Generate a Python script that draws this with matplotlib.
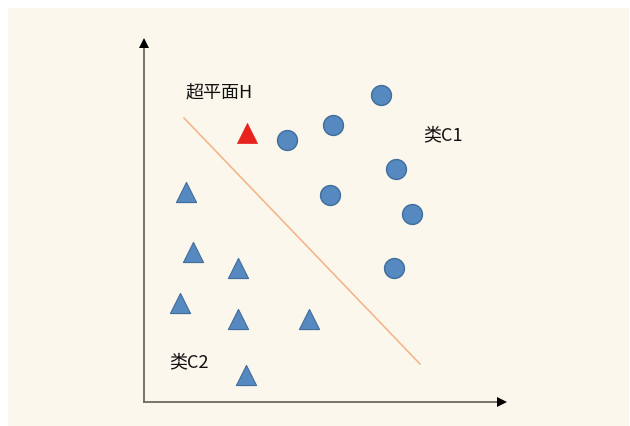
import matplotlib.pyplot as plt
from matplotlib.patches import Rectangle

plt.rcParams['font.family'] = ['Noto Sans CJK SC', 'DejaVu Sans']

# point positions (pixel-like units, y grows downward)
c1_x = [381, 333, 287, 396, 330, 412, 394]
c1_y = [96, 126, 141, 170, 196, 215, 269]
c2_x = [186, 193, 238, 180, 238, 309, 246]
c2_y = [193, 253, 269, 304, 320, 320, 376]
new_x = [247]
new_y = [134]
plane_x = [184, 420]
plane_y = [119, 365]

labels = ["超平面H", "类C1", "类C2"]
label_x = [186, 423, 169]
label_y = [93, 135, 362]

fig = plt.figure(figsize=(6.3, 4.27), dpi=100)
ax = fig.add_axes([0, 0, 1, 1])
ax.set_xlim(0, 630)
ax.set_ylim(427, 0)
ax.axis("off")
fig.patch.set_facecolor("white")

ax.add_patch(Rectangle((8, 9), 621, 430, facecolor="#fcf7ec", edgecolor="none", zorder=0))

# axes with arrows
ax.plot([144, 144], [403, 46], color="#6e6a62", lw=1.3, zorder=1)
ax.plot([144, 498], [403, 403], color="#6e6a62", lw=1.3, zorder=1)
ax.plot([144], [44], marker="^", color="black", ms=7, mew=0, zorder=2)
ax.plot([502], [403], marker=">", color="black", ms=7, mew=0, zorder=2)

# hyperplane
ax.plot(plane_x, plane_y, color="#f4b183", lw=1.1, zorder=1)

ax.scatter(c1_x, c1_y, s=205, marker="o", color="#5589c0", edgecolor="#3f6d9c", lw=1, zorder=3)
ax.scatter(c2_x, c2_y, s=210, marker="^", color="#5589c0", edgecolor="#3f6d9c", lw=0.8, zorder=3)
ax.scatter(new_x, new_y, s=210, marker="^", color="#e8231e", edgecolor="#e8231e", lw=0.5, zorder=3)

for t, x, y in zip(labels, label_x, label_y):
    ax.text(x, y, t, fontsize=13, ha="left", va="center", color="#111111")

fig.savefig("out.png", dpi=100)
